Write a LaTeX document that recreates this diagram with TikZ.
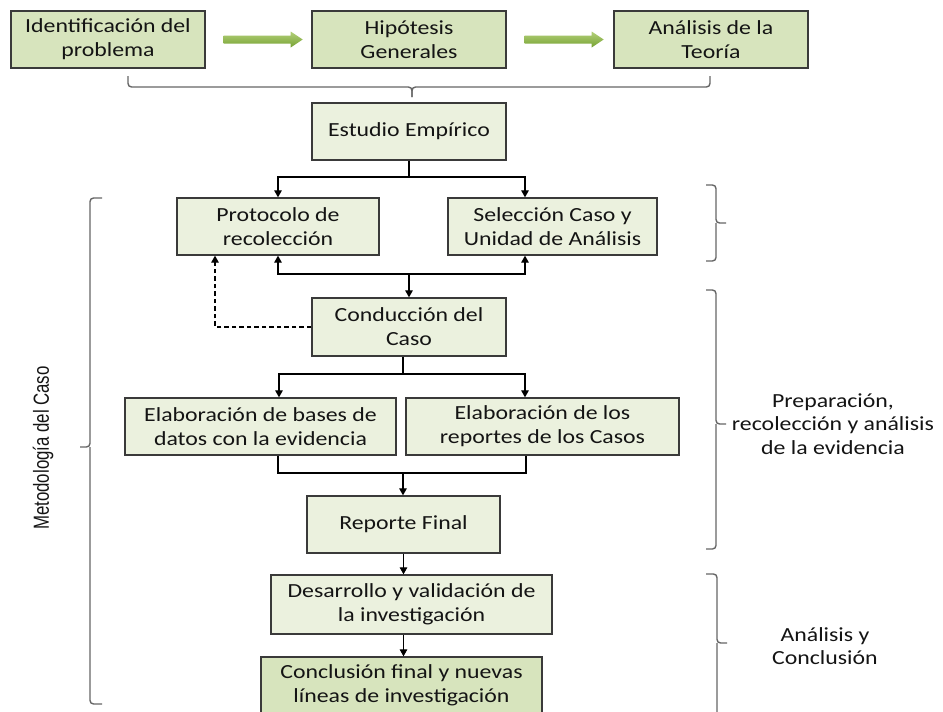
\documentclass[tikz,border=0pt]{standalone}
\usepackage{fontspec}
\usepackage{graphicx}
\setmainfont[FakeStretch=1.19]{Carlito}
\newfontfamily\labelsans{Liberation Sans}
\usetikzlibrary{arrows.meta,calc}

\definecolor{boxlight}{HTML}{EBF1DE}
\definecolor{boxdark}{HTML}{D7E4BD}
\definecolor{boxline}{HTML}{3A3A3A}
\definecolor{bracegray}{HTML}{666666}
\definecolor{txt}{HTML}{141414}
\definecolor{gtop}{HTML}{B3D07A}
\definecolor{gbot}{HTML}{76A232}

\tikzset{
  stage/.style={draw=boxline, line width=1.3pt, fill=boxlight, text=txt,
    inner sep=0pt, align=center, minimum height=57pt,
    font=\fontsize{20}{24}\selectfont},
  keystage/.style={stage, fill=boxdark},
  link/.style={line width=1.2pt, draw=black},
  arr/.style={link, -{Triangle[length=7pt,width=7.5pt]}},
  feedback/.style={arr, dash pattern=on 4.5pt off 3pt},
  bracket/.style={draw=bracegray, line width=1.4pt, rounded corners=3.5pt},
  sidelabel/.style={align=center, text=txt, inner sep=0pt,
    font=\fontsize{20}{23.5}\selectfont},
  flowarrow/.style={top color=gtop, bottom color=gbot, draw=none}
}

\begin{document}
\begin{tikzpicture}[x=1pt, y=-1pt]
\clip (0,0) rectangle (943,712);
\fill[white] (0,0) rectangle (943,712);

% top row
\node[keystage, minimum width=194pt] (idp) at (108,39.5) {Identificación del\\problema};
\node[keystage, minimum width=194pt] (hip) at (409,39.5) {Hipótesis\\Generales};
\node[keystage, minimum width=194pt] (ana) at (711,39.5) {Análisis de la\\Teoría};

% green flow arrows
\shade[flowarrow] ($(idp.east)+(18,-4)$) -- ++(67,0) -- ++(0,-4) -- ++(12,8)
  -- ++(-12,8) -- ++(0,-4) -- ++(-67,0) -- cycle;
\shade[flowarrow] ($(hip.east)+(18,-4)$) -- ++(67,0) -- ++(0,-4) -- ++(12,8)
  -- ++(-12,8) -- ++(0,-4) -- ++(-67,0) -- cycle;

% brace gathering the top row
\coordinate (tbl) at (128,76);
\coordinate (tbr) at (710,76);
\coordinate (tbm) at (412,87);
\coordinate (tbt) at (412,97);
\draw[bracket] (tbl) |- (tbm) -- (tbt);
\draw[bracket] (tbr) |- (tbm) -- (tbt);

% main column
\node[stage, minimum width=194pt] (est) at (409,131.5) {Estudio Empírico};
\node[stage, minimum width=202pt] (pro) at (278,226.5) {Protocolo de\\recolección};
\node[stage, minimum width=209pt] (sel) at (552.5,226.5) {Selección Caso y\\Unidad de Análisis};
\node[stage, minimum width=194pt, minimum height=58pt] (con) at (409,327) {Conducción del\\Caso};
\node[stage, minimum width=271pt] (el1) at (260.5,426.5) {Elaboración de bases de\\datos con la evidencia};
\node[stage, minimum width=273pt] (el2) at (542.5,426.5) {Elaboración de los\\reportes de los Casos};
\node[stage, minimum width=193pt] (rep) at (403.5,524.5) {Reporte Final};
\node[stage, minimum width=281pt, minimum height=59pt] (des) at (411.5,604.5) {Desarrollo y validación de\\la investigación};
\node[keystage, minimum width=281pt] (cfin) at (401.5,685.5) {Conclusión final y nuevas\\líneas de investigación};

% Estudio Empírico splits into the two design steps
\coordinate (j1) at (409,177);
\draw[link] (est.south) -- (j1);
\draw[arr] (j1) -| (pro.north);
\draw[arr] (j1) -| ([xshift=-27.5pt]sel.north);

% both design steps feed the case conduction
\coordinate (j2) at (409,274);
\draw[arr] (j2) -| (pro.south);
\draw[arr] (j2) -| ([xshift=-27.5pt]sel.south);
\draw[arr] (j2) -- (con.north);

% feedback to the protocol
\draw[feedback] (con.west) -| ([xshift=-63pt]pro.south);

% conduction splits into the two elaboration steps
\coordinate (j3) at (403,374);
\draw[link] ([xshift=-6pt]con.south) -- (j3);
\draw[arr] (j3) -| ([xshift=18.5pt]el1.north);
\draw[arr] (j3) -| ([xshift=-17.5pt]el2.north);

% both elaborations join into the final report
\coordinate (j4) at (403,473);
\draw[link] ([xshift=17.5pt]el1.south) |- (j4) -| ([xshift=-16.5pt]el2.south);
\draw[arr] (j4) -- (j4 |- rep.north);
\draw[arr] (rep.south) -- (rep.south |- des.north);
\draw[arr] (rep.south |- des.south) -- (rep.south |- cfin.north);

% right-hand stage brackets
\coordinate (b1m) at (716,223);
\draw[bracket] (706,185) -| (b1m) -- (726,223);
\draw[bracket] (706,261) -| (b1m);

\coordinate (b2m) at (716,424);
\draw[bracket] (706,290) -| (b2m) -- (726,424);
\draw[bracket] (706,549) -| (b2m);

\coordinate (b3m) at (717,643);
\draw[bracket] (706,574) -| (b3m) -- (727,643);
\draw[bracket] (706,725) -| (b3m);

% left bracket for the whole case methodology
\coordinate (blm) at (90,447);
\draw[bracket] (102,198) -| (blm) -- (80,447);
\draw[bracket] (102,704) -| (blm);

% labels
\node[sidelabel] (lprep) at (833,424) {Preparación,\\recolección y análisis\\de la evidencia};
\node[sidelabel] (lconc) at (825,646) {Análisis y\\Conclusión};
\node[rotate=90, inner sep=0pt, text=txt] (lmeto) at (43,448)
  {\scalebox{1}[1.3]{\labelsans\fontsize{16.8}{20}\selectfont Metodología del Caso}};
\end{tikzpicture}
\end{document}
